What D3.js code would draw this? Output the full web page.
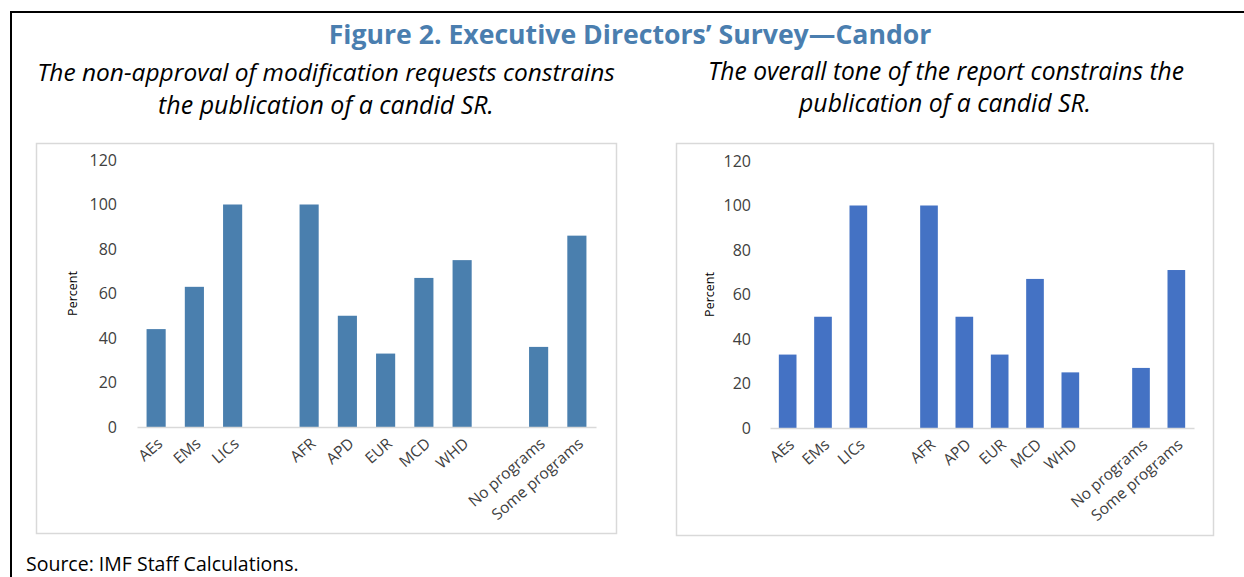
<!DOCTYPE html>
<html>
<head>
<meta charset="utf-8">
<script src="https://cdn.jsdelivr.net/npm/d3@7"></script>
<style>
  body { margin: 0; background: #fff; }
  svg { display: block; }
</style>
</head>
<body>
<div id="fig"></div>
<script>
'use strict';

// slots: null = empty gap between groups
const categories = ['AEs', 'EMs', 'LICs', null, 'AFR', 'APD', 'EUR', 'MCD', 'WHD', null, 'No programs', 'Some programs'];
const modificationValues = [44, 63, 100, null, 100, 50, 33, 67, 75, null, 36, 86];
const toneValues = [33, 50, 100, null, 100, 50, 33, 67, 25, null, 27, 71];
const yTicks = [0, 20, 40, 60, 80, 100, 120];

const width = 1244, height = 577;
const font = '"Open Sans", "Noto Sans", sans-serif';

const svg = d3.select('#fig').append('svg')
    .attr('width', width)
    .attr('height', height);

// outer frame (top + left only visible)
svg.append('line')
    .attr('x1', 10).attr('x2', width).attr('y1', 12).attr('y2', 12)
    .attr('stroke', '#000').attr('stroke-width', 2);
svg.append('line')
    .attr('x1', 11).attr('x2', 11).attr('y1', 12).attr('y2', height)
    .attr('stroke', '#000').attr('stroke-width', 2);

// shrink/grow font so text fits a target width
function fit(sel, target) {
    const w = sel.node().getComputedTextLength();
    const fs = parseFloat(sel.style('font-size'));
    sel.style('font-size', (fs * target / w) + 'px');
}

const title = svg.append('text')
    .attr('x', 630).attr('y', 44)
    .attr('text-anchor', 'middle')
    .style('font-family', font)
    .style('font-weight', 700)
    .style('font-size', '24px')
    .style('fill', '#4A7EAF')
    .text('Figure 2. Executive Directors\u2019 Survey\u2014Candor');
fit(title, 603);

const subtitles = [
    {x: 326, y: 81, text: 'The non-approval of modification requests constrains', w: 578},
    {x: 326, y: 114, text: 'the publication of a candid SR.', w: 336},
    {x: 946, y: 80, text: 'The overall tone of the report constrains the', w: 476},
    {x: 945, y: 112, text: 'publication of a candid SR.', w: 292},
];
subtitles.forEach(s => {
    const t = svg.append('text')
        .attr('x', s.x).attr('y', s.y)
        .attr('text-anchor', 'middle')
        .style('font-family', font)
        .style('font-style', 'italic')
        .style('font-size', '22px')
        .style('fill', '#000')
        .text(s.text);
    fit(t, s.w);
});

svg.append('text')
    .attr('x', 26).attr('y', 571)
    .style('font-family', font)
    .style('font-size', '19.5px')
    .style('fill', '#000')
    .text('Source: IMF Staff Calculations.');

function drawChart(box, plot, values, color) {
    const g = svg.append('g');

    g.append('rect')
        .attr('x', box.x0 + 0.5).attr('y', box.y0 + 0.5)
        .attr('width', box.x1 - box.x0).attr('height', box.y1 - box.y0)
        .attr('fill', '#fff')
        .attr('stroke', '#D9D9D9')
        .attr('stroke-width', 1.5);

    const x = d3.scaleBand()
        .domain(d3.range(categories.length))
        .range([plot.left, plot.right])
        .paddingInner(0.5)
        .paddingOuter(0.25);

    const y = d3.scaleLinear()
        .domain([0, 120])
        .range([plot.base, plot.top]);

    const yAxis = g.append('g')
        .attr('transform', 'translate(' + plot.tickX + ',0)')
        .call(d3.axisLeft(y).tickValues(yTicks).tickSize(0).tickPadding(0));
    yAxis.select('.domain').remove();
    yAxis.selectAll('text')
        .style('font-family', font)
        .style('font-size', '16px')
        .style('fill', '#404040');

    g.selectAll('.bar')
        .data(values.map((v, i) => ({i: i, v: v})).filter(d => d.v != null))
        .enter().append('rect')
        .attr('class', 'bar')
        .attr('x', d => x(d.i))
        .attr('width', x.bandwidth())
        .attr('y', d => y(d.v))
        .attr('height', d => y(0) - y(d.v))
        .attr('fill', color);

    const xAxis = g.append('g')
        .attr('transform', 'translate(0,' + plot.base + ')')
        .call(d3.axisBottom(x).tickSize(0).tickFormat(i => categories[i] || ''));
    xAxis.select('.domain')
        .attr('stroke', '#D9D9D9')
        .attr('stroke-width', 1.5);
    xAxis.selectAll('text')
        .attr('x', 0).attr('y', 0)
        .attr('dy', '0.35em')
        .attr('text-anchor', 'end')
        .attr('transform', 'translate(4,14) rotate(-41)')
        .style('font-family', font)
        .style('font-size', '15.5px')
        .style('fill', '#404040');

    g.append('text')
        .attr('transform', 'translate(' + plot.labelX + ',' + y(60) + ') rotate(-90)')
        .attr('text-anchor', 'middle')
        .attr('dy', '0.35em')
        .style('font-family', font)
        .style('font-size', '12.5px')
        .style('fill', '#000')
        .text('Percent');
}

drawChart(
    {x0: 36, y0: 143, x1: 616, y1: 533},
    {left: 137, right: 596, base: 427, top: 160, tickX: 117, labelX: 73},
    modificationValues, '#4A7FAE');

drawChart(
    {x0: 676, y0: 143, x1: 1213, y1: 535},
    {left: 770, right: 1194, base: 428, top: 161, tickX: 751, labelX: 710},
    toneValues, '#4472C4');
</script>
</body>
</html>
